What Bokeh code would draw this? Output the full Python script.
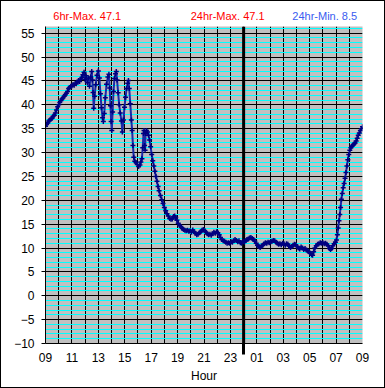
from bokeh.plotting import figure
from bokeh.layouts import column
from bokeh.models import Range1d, FixedTicker, SingleIntervalTicker
from bokeh.core.properties import value
from bokeh.embed import file_html
from bokeh.resources import INLINE

# hours since 09:00
hours = [0.00,0.08,0.17,0.25,0.33,0.42,0.50,0.58,0.67,0.75,0.83,0.92,1.00,1.08,1.17,1.25,1.33,1.42,1.50,1.58,
         1.67,1.75,1.83,1.92,2.00,2.08,2.17,2.25,2.33,2.42,2.50,2.58,2.67,2.75,2.83,2.92,3.00,3.08,3.17,3.25,
         3.33,3.42,3.50,3.55,3.60,3.65,3.72,3.80,3.90,4.00,4.08,4.16,4.24,4.32,4.38,4.45,4.53,4.62,4.72,4.80,
         4.86,4.92,4.97,5.02,5.08,5.15,5.22,5.30,5.36,5.42,5.50,5.58,5.66,5.75,5.82,5.90,5.98,6.06,6.14,6.22,
         6.28,6.34,6.42,6.50,6.56,6.62,6.68,6.76,6.85,6.95,7.05,7.15,7.22,7.30,7.36,7.42,7.46,7.50,7.54,7.58,
         7.64,7.72,7.80,7.88,7.96,8.04,8.12,8.20,8.28,8.36,8.44,8.52,8.60,8.70,8.80,8.90,9.00,9.10,9.20,9.30,
         9.40,9.50,9.60,9.70,9.78,9.86,9.95,10.05,10.15,10.25,10.35,10.45,10.55,10.65,10.75,10.85,10.95,11.05,11.15,11.25,
         11.35,11.45,11.55,11.65,11.75,11.85,11.95,12.05,12.15,12.25,12.35,12.45,12.55,12.65,12.75,12.85,12.95,13.05,13.15,13.25,
         13.35,13.45,13.55,13.65,13.75,13.85,13.95,14.05,14.15,14.25,14.35,14.45,14.55,14.65,14.75,14.85,14.95,15.05,15.15,15.25,
         15.35,15.45,15.55,15.65,15.75,15.85,15.95,16.05,16.15,16.25,16.35,16.45,16.55,16.65,16.75,16.85,16.95,17.05,17.15,17.25,
         17.35,17.45,17.55,17.65,17.75,17.85,17.95,18.05,18.15,18.25,18.35,18.45,18.55,18.65,18.75,18.85,18.95,19.05,19.15,19.25,
         19.35,19.45,19.55,19.65,19.75,19.85,19.95,20.05,20.15,20.22,20.30,20.40,20.50,20.60,20.70,20.80,20.90,21.00,21.10,21.20,
         21.30,21.40,21.50,21.58,21.66,21.75,21.85,21.95,22.03,22.10,22.16,22.22,22.28,22.34,22.40,22.47,22.54,22.61,22.68,22.75,
         22.82,22.89,22.96,23.04,23.12,23.20,23.28,23.36,23.44,23.52,23.60,23.68,23.76,23.84,23.92,24.00]

temps = [35.5,35.9,36.2,36.6,36.8,37.0,37.2,37.6,37.8,38.3,38.9,39.6,40.0,40.5,40.9,41.2,41.5,41.8,42.1,42.4,
         42.8,43.4,43.6,43.9,44.0,44.2,44.1,44.5,44.4,44.8,45.1,44.9,45.4,45.7,46.3,46.8,45.3,46.1,44.6,45.6,
         43.9,45.8,47.0,45.2,42.6,39.3,41.8,44.2,46.2,47.1,45.6,42.3,39.4,37.3,36.5,38.2,41.5,44.3,45.8,46.4,
         43.5,39.8,36.5,34.6,38.5,42.8,45.5,46.5,47.0,45.2,42.5,40.0,38.3,36.6,34.3,36.8,39.5,41.6,43.4,44.5,
         45.1,43.4,40.2,36.8,34.6,31.5,29.0,28.2,27.9,27.5,27.1,27.4,28.0,28.7,31.0,34.0,34.6,31.5,30.5,34.0,
         34.6,34.3,33.6,32.6,31.2,29.6,28.3,27.2,26.1,25.0,24.0,22.9,22.0,21.0,20.1,19.3,18.5,17.8,17.2,16.7,
         16.2,16.0,16.1,16.6,16.7,16.4,15.8,15.2,14.7,14.5,14.1,13.9,13.7,13.6,13.7,13.5,13.6,13.3,13.8,13.4,
         13.1,12.8,12.9,13.2,13.4,13.7,13.9,13.6,13.3,13.0,12.8,12.9,12.7,13.0,13.3,13.1,13.4,13.2,12.8,12.2,
         11.8,11.5,11.4,11.2,11.0,11.1,11.0,11.3,11.2,11.5,11.8,11.6,11.3,11.5,11.1,11.0,11.4,11.2,11.5,11.8,
         11.9,12.1,12.2,12.0,11.8,11.4,11.0,10.6,10.3,10.1,10.4,10.6,10.9,11.1,11.0,11.2,11.1,11.3,11.4,11.6,
         11.5,11.2,11.0,10.8,10.9,10.7,11.0,10.9,10.6,10.9,10.8,10.4,10.1,10.3,10.6,10.8,10.7,10.3,10.0,9.8,
         10.2,10.0,9.7,9.9,9.6,9.4,9.2,8.9,8.6,8.5,9.2,10.0,10.5,10.8,10.9,11.1,11.0,11.1,10.9,11.0,
         10.8,10.5,9.9,9.7,9.9,10.5,10.9,11.2,11.7,12.8,14.2,15.7,17.0,18.5,20.2,21.4,22.6,23.5,24.6,25.8,
         27.2,28.5,29.6,30.5,31.0,31.3,31.6,31.8,32.0,32.4,33.0,33.6,34.1,34.6,35.0,35.4]

x_tick_pos = [0, 2, 4, 6, 8, 10, 12, 14, 16, 18, 20, 22, 24]
x_tick_labels = ["09", "11", "13", "15", "17", "19", "21", "23", "01", "03", "05", "07", "09"]
midnight = 15

title_texts = ["6hr-Max. 47.1", "24hr-Max. 47.1", "24hr-Min. 8.5"]
title_colors = ["#ff0000", "#ff0000", "#3a5cf0"]
title_x = [3.16, 13.79, 21.14]

FONT = "Liberation Sans"

# ---- header with the three summary texts ----
head = figure(width=383, height=22, x_range=Range1d(0, 24), y_range=Range1d(0, 1),
              output_backend="svg", toolbar_location=None,
              min_border_left=44, min_border_right=22, min_border_top=0, min_border_bottom=0)
head.axis.visible = False
head.grid.visible = False
head.outline_line_color = None
head.background_fill_color = "white"
head.border_fill_color = "white"
head.text(x=title_x, y=[0.34] * 3, text=title_texts, text_color=title_colors,
          text_align="center", text_baseline="middle",
          text_font=value(FONT), text_font_size="11px")

# ---- main chart ----
p = figure(width=383, height=364, x_range=Range1d(0, 24), y_range=Range1d(-10, 56.4),
           output_backend="svg", toolbar_location=None,
           min_border_left=44, min_border_right=22, min_border_top=3, min_border_bottom=44)
p.background_fill_color = "#c0c0c0"
p.border_fill_color = "white"
p.outline_line_color = None

# grids
p.xgrid.ticker = FixedTicker(ticks=list(range(25)))
p.xgrid.grid_line_color = "black"
p.xgrid.grid_line_width = 1
p.ygrid.ticker = SingleIntervalTicker(interval=5, num_minor_ticks=5)
p.ygrid.grid_line_color = "black"
p.ygrid.minor_grid_line_color = "#00ffff"
p.ygrid.minor_grid_line_width = 1

# y axis
p.yaxis.ticker = SingleIntervalTicker(interval=5, num_minor_ticks=0)
p.yaxis.major_tick_out = 4
p.yaxis.major_tick_in = 0
p.yaxis.minor_tick_out = 0
p.yaxis.minor_tick_in = 0
p.yaxis.axis_line_color = "black"
p.yaxis.major_label_standoff = 7
p.yaxis.major_label_text_font = FONT
p.yaxis.major_label_text_font_size = "12px"
p.yaxis.major_label_text_color = "black"

# x axis (minor tick at midnight draws the extension of the day divider)
p.xaxis.ticker = FixedTicker(ticks=x_tick_pos, minor_ticks=[midnight])
p.xaxis.major_label_overrides = {t: l for t, l in zip(x_tick_pos, x_tick_labels)}
p.xaxis.major_tick_out = 0
p.xaxis.major_tick_in = 0
p.xaxis.minor_tick_out = 11
p.xaxis.minor_tick_in = 0
p.xaxis.minor_tick_line_width = 3
p.xaxis.minor_tick_line_color = "black"
p.xaxis.axis_line_color = "black"
p.xaxis.major_label_standoff = -2
p.xaxis.major_label_text_font = FONT
p.xaxis.major_label_text_font_size = "12px"
p.xaxis.major_label_text_color = "black"
p.xaxis.axis_label = "Hour"
p.xaxis.axis_label_standoff = 4
p.xaxis.axis_label_text_font = FONT
p.xaxis.axis_label_text_font_size = "12px"
p.xaxis.axis_label_text_font_style = "normal"
p.xaxis.axis_label_text_color = "black"

# midnight divider inside the plot area
p.segment(x0=[midnight], y0=[-10], x1=[midnight], y1=[56.4], line_color="black", line_width=3)

# data
p.line(hours, temps, line_color="#1a2aa8", line_width=2)
p.scatter(hours, temps, marker="cross", size=5, line_color="#000080", line_width=1.5)

layout = column(head, p, spacing=0)
layout.styles = {"border": "1px solid black"}

open("out.html", "w").write(file_html(layout, INLINE))
